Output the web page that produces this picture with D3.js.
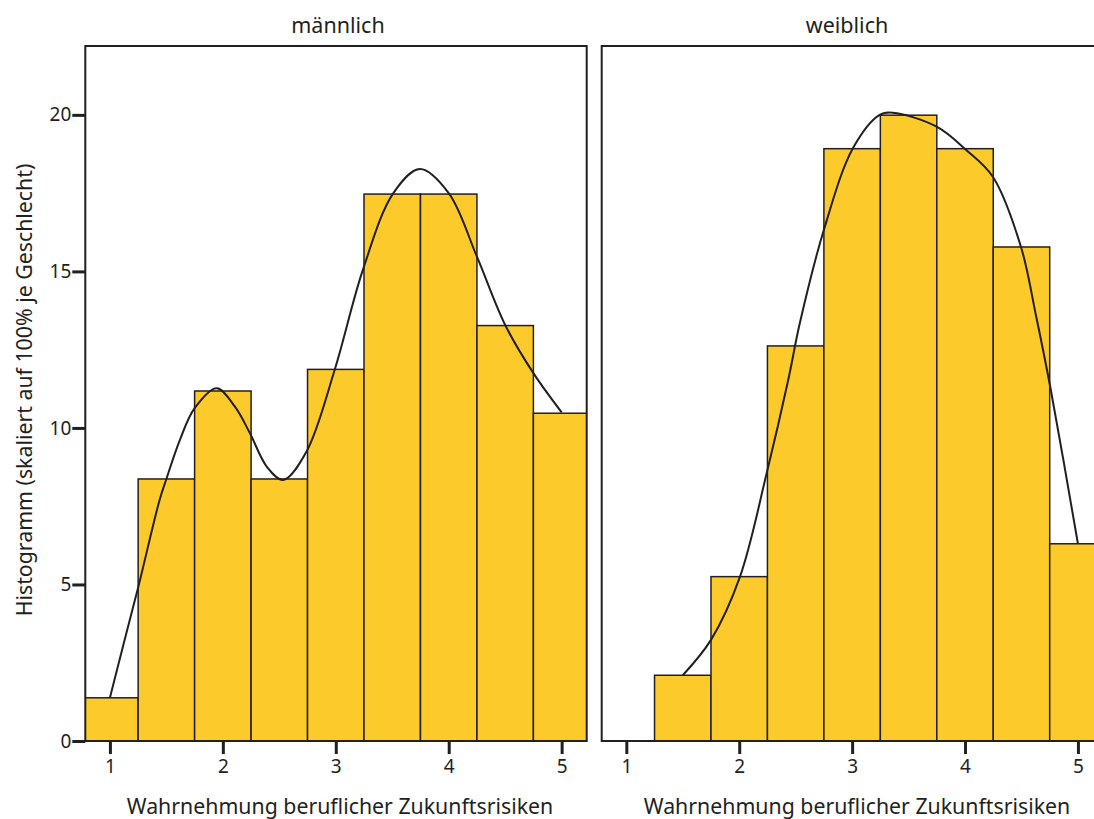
<!DOCTYPE html>
<html>
<head>
<meta charset="utf-8">
<script src="https://cdn.jsdelivr.net/npm/d3@7"></script>
<style>
  html, body { margin: 0; padding: 0; background: #ffffff; }
  svg { display: block; }
  text { font-family: "Noto Sans", "Open Sans", sans-serif; fill: #231f20; }
</style>
</head>
<body>
<svg id="chart" width="1094" height="819"></svg>
<script>
// ---- data ----
const panels = ["männlich", "weiblich"];
const binCenters = [1.0, 1.5, 2.0, 2.5, 3.0, 3.5, 4.0, 4.5, 5.0];
const maleValues = [1.38, 8.37, 11.18, 8.37, 11.87, 17.47, 17.47, 13.27, 10.47];
const femaleValues = [0, 2.10, 5.25, 12.62, 18.92, 19.99, 18.92, 15.78, 6.30];
const maleCurveX = [1.0, 1.13, 1.25, 1.44, 1.5, 1.62, 1.75, 1.945, 2.107, 2.24, 2.39, 2.535, 2.74, 2.99, 3.24, 3.51, 3.746, 4.0, 4.25, 4.5, 4.75, 5.0];
const maleCurveY = [1.38, 3.23, 4.9, 7.7, 8.37, 9.62, 10.63, 11.27, 10.68, 9.83, 8.76, 8.34, 9.24, 11.85, 15.05, 17.5, 18.27, 17.5, 15.47, 13.29, 11.75, 10.5];
const femaleCurveX = [1.5, 1.75, 2.007, 2.243, 2.434, 2.537, 2.75, 3.008, 3.244, 3.36, 3.745, 4.01, 4.245, 4.495, 4.628, 4.76, 5.0];
const femaleCurveY = [2.10, 3.23, 5.25, 8.55, 11.53, 13.35, 16.33, 18.94, 20.0, 20.07, 19.63, 18.88, 18.03, 15.79, 13.6, 11.21, 6.30];
const xTicks = [1, 2, 3, 4, 5];
const yTicks = [0, 5, 10, 15, 20];
const xTitle = "Wahrnehmung beruflicher Zukunftsrisiken";
const yTitle = "Histogramm (skaliert auf 100% je Geschlecht)";

// ---- layout ----
const ink = "#231f20";
const barFill = "#fdca2c";
const plotTop = 46, plotBottom = 741;
const panelDefs = [
  { name: panels[0], x0: 85.3, x1: 586.7, values: maleValues, cx: maleCurveX, cy: maleCurveY, titleX: 338, xTitleX: 340 },
  { name: panels[1], x0: 601.7, x1: 1103, values: femaleValues, cx: femaleCurveX, cy: femaleCurveY, titleX: 847, xTitleX: 857 }
];
const xDomain = [0.782, 5.222];
const binWidth = 0.5;

const svg = d3.select("#chart");
const y = d3.scaleLinear().domain([0, 22.2]).range([plotBottom, plotTop]);

panelDefs.forEach((p, i) => {
  const x = d3.scaleLinear().domain(xDomain).range([p.x0, p.x1]);
  const g = svg.append("g");

  const clipId = "clip" + i;
  svg.append("defs").append("clipPath").attr("id", clipId)
    .append("rect").attr("x", p.x0).attr("y", plotTop).attr("width", p.x1 - p.x0).attr("height", plotBottom - plotTop);

  const inner = g.append("g").attr("clip-path", `url(#${clipId})`);

  // bars
  const bars = binCenters.map((c, k) => ({ c, v: p.values[k] })).filter(d => d.v > 0);
  inner.selectAll("rect.bar").data(bars).enter().append("rect")
    .attr("class", "bar")
    .attr("x", d => x(d.c - binWidth / 2))
    .attr("width", d => x(d.c + binWidth / 2) - x(d.c - binWidth / 2))
    .attr("y", d => y(d.v))
    .attr("height", d => y(0) - y(d.v))
    .attr("fill", barFill)
    .attr("stroke", ink)
    .attr("stroke-width", 1.5);

  // density curve
  const pts = p.cx.map((v, k) => [v, p.cy[k]]);
  inner.append("path")
    .datum(pts)
    .attr("d", d3.line().x(d => x(d[0])).y(d => y(d[1])).curve(d3.curveCatmullRom.alpha(0.5)))
    .attr("fill", "none")
    .attr("stroke", ink)
    .attr("stroke-width", 2);

  // frame
  g.append("rect")
    .attr("x", p.x0).attr("y", plotTop)
    .attr("width", p.x1 - p.x0).attr("height", plotBottom - plotTop)
    .attr("fill", "none").attr("stroke", ink).attr("stroke-width", 2);

  // x axis
  const xAxis = d3.axisBottom(x).tickValues(xTicks).tickFormat(d3.format("d")).tickSize(13).tickPadding(6);
  const xa = g.append("g").attr("transform", `translate(0,${plotBottom})`).call(xAxis);
  xa.select(".domain").remove();
  xa.selectAll(".tick line").attr("stroke", ink).attr("stroke-width", 3);
  xa.selectAll(".tick text").attr("font-size", 19).attr("font-family", "Noto Sans").attr("fill", ink);

  // x title
  g.append("text")
    .attr("x", p.xTitleX)
    .attr("y", 814)
    .attr("text-anchor", "middle")
    .attr("font-size", 21.3)
    .text(xTitle);

  // panel title
  g.append("text")
    .attr("x", p.titleX)
    .attr("y", 33)
    .attr("text-anchor", "middle")
    .attr("font-size", 21.5)
    .text(p.name);

  if (i === 0) {
    const yAxis = d3.axisLeft(y).tickValues(yTicks).tickFormat(d3.format("d")).tickSize(13).tickPadding(1);
    const ya = g.append("g").attr("transform", `translate(${p.x0},0)`).call(yAxis);
    ya.select(".domain").remove();
    ya.selectAll(".tick line").attr("stroke", ink).attr("stroke-width", 3);
    ya.selectAll(".tick text").attr("font-size", 19).attr("font-family", "Noto Sans").attr("fill", ink);

    g.append("text")
      .attr("transform", `translate(32,390) rotate(-90)`)
      .attr("text-anchor", "middle")
      .attr("font-size", 21.3)
      .text(yTitle);
  }
});
</script>
</body>
</html>
